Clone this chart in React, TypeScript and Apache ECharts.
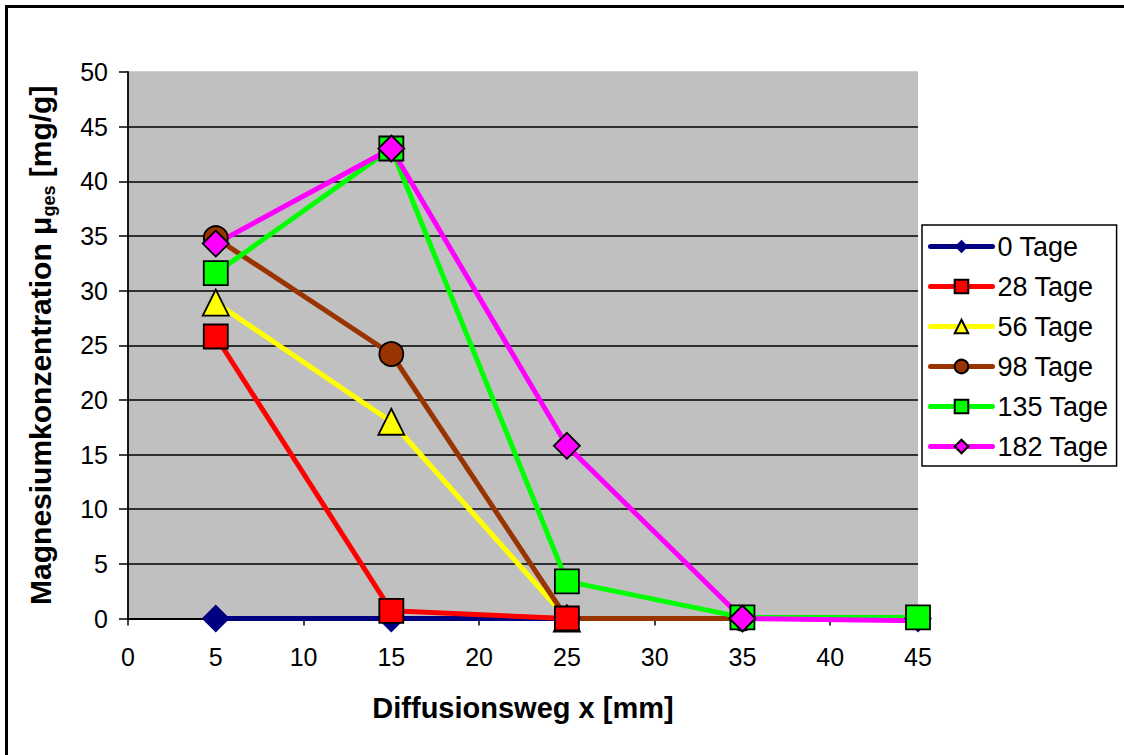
import { useEffect, useRef } from 'react';
import * as echarts from 'echarts';

const xPositions = [5, 15, 25, 35, 45];
const yTicks = [0, 5, 10, 15, 20, 25, 30, 35, 40, 45, 50];

const names = ['0 Tage', '28 Tage', '56 Tage', '98 Tage', '135 Tage', '182 Tage'];
const tage0 = [0, 0, 0, 0, 0];
const tage28 = [25.8, 0.7, 0];
const tage56 = [28.9, 18.0, 0];
const tage98 = [34.8, 24.2, 0, 0];
const tage135 = [31.6, 43.0, 3.4, 0.1, 0.1];
const tage182 = [34.3, 43.0, 15.8, 0, -0.2];
const hiddenMarkers182 = [4];

const FONT = "'Liberation Sans', Arial, sans-serif";

function makeSeries(
  name: string,
  values: number[],
  color: string,
  symbol: string,
  size: number,
  bordered: boolean,
  z: number,
  hidden: number[] = []
) {
  return {
    name,
    type: 'line',
    z,
    clip: false,
    symbol,
    symbolSize: size,
    showAllSymbol: true,
    lineStyle: { color, width: 5, cap: 'round', join: 'round' },
    itemStyle: {
      color,
      borderColor: bordered ? '#000' : color,
      borderWidth: bordered ? 1.8 : 0,
    },
    emphasis: { disabled: true },
    data: values.map((v, i) =>
      hidden.includes(i) ? { value: [xPositions[i], v], symbol: 'none' } : [xPositions[i], v]
    ),
  };
}

export default function App() {
  const ref = useRef<HTMLDivElement>(null);
  useEffect(() => {
    document.body.style.margin = '0';
    const chart = echarts.init(ref.current!, null, { renderer: 'svg' });
    chart.setOption({
      animation: false,
      backgroundColor: '#fff',
      textStyle: { fontFamily: FONT },
      graphic: [
        {
          type: 'rect',
          shape: { x: 6.5, y: 6.5, width: 1300, height: 900 },
          style: { fill: 'none', stroke: '#000', lineWidth: 3 },
          silent: true,
        },
      ],
      grid: {
        left: 128,
        right: 206,
        top: 72,
        bottom: 136.5,
        show: true,
        backgroundColor: '#c0c0c0',
        borderWidth: 0,
      },
      legend: {
        orient: 'vertical',
        left: 922,
        top: 225,
        itemWidth: 62,
        itemHeight: 17,
        itemGap: 13,
        padding: [8, 8, 6, 6],
        backgroundColor: '#fff',
        borderColor: '#000',
        borderWidth: 1.5,
        borderRadius: 0,
        data: names,
        lineStyle: { width: 5, cap: 'round' },
        textStyle: { fontSize: 27, color: '#000', fontFamily: FONT },
      },
      xAxis: {
        type: 'value',
        min: 0,
        max: 45,
        interval: 5,
        name: 'Diffusionsweg x [mm]',
        nameLocation: 'middle',
        nameGap: 75,
        nameTextStyle: { fontSize: 29, fontWeight: 'bold', color: '#000', fontFamily: FONT },
        axisLine: { onZero: false, lineStyle: { color: '#000', width: 1.8 } },
        axisTick: { show: true, length: 7, lineStyle: { color: '#000', width: 1.5 } },
        axisLabel: { fontSize: 25, color: '#000', margin: 26, fontFamily: FONT },
        splitLine: { show: false },
      },
      yAxis: {
        type: 'value',
        min: 0,
        max: 50,
        interval: 5,
        name: '{a|Magnesiumkonzentration μ}{s|ges}{a| [mg/g]}',
        nameLocation: 'middle',
        nameGap: 70,
        nameTextStyle: {
          color: '#000',
          rich: {
            a: { fontSize: 30, fontWeight: 'bold', color: '#000', fontFamily: FONT, lineHeight: 36 },
            s: {
              fontSize: 18,
              fontWeight: 'bold',
              color: '#000',
              fontFamily: FONT,
              lineHeight: 36,
              verticalAlign: 'bottom',
            },
          },
        },
        axisLine: { show: true, lineStyle: { color: '#000', width: 1.8 } },
        axisTick: { show: true, length: 9, lineStyle: { color: '#000', width: 1.5 } },
        axisLabel: { fontSize: 25, color: '#000', margin: 20, fontFamily: FONT },
        splitLine: {
          show: true,
          lineStyle: {
            color: yTicks.map((v) => (v === 50 ? '#c0c0c0' : '#000')),
            width: 1.6,
          },
        },
      },
      series: [
        makeSeries(names[0], tage0, '#000080', 'diamond', 28, false, 2),
        makeSeries(names[1], tage28, '#ff0000', 'rect', 24, true, 4),
        makeSeries(names[2], tage56, '#ffff00', 'triangle', 26, true, 2),
        makeSeries(names[3], tage98, '#993300', 'circle', 24, true, 2),
        makeSeries(names[4], tage135, '#00ff00', 'rect', 24, true, 2),
        makeSeries(names[5], tage182, '#ff00ff', 'diamond', 26, true, 2, hiddenMarkers182),
      ],
    });
    return () => chart.dispose();
  }, []);
  return <div ref={ref} style={{ width: 1124, height: 755 }} />;
}
